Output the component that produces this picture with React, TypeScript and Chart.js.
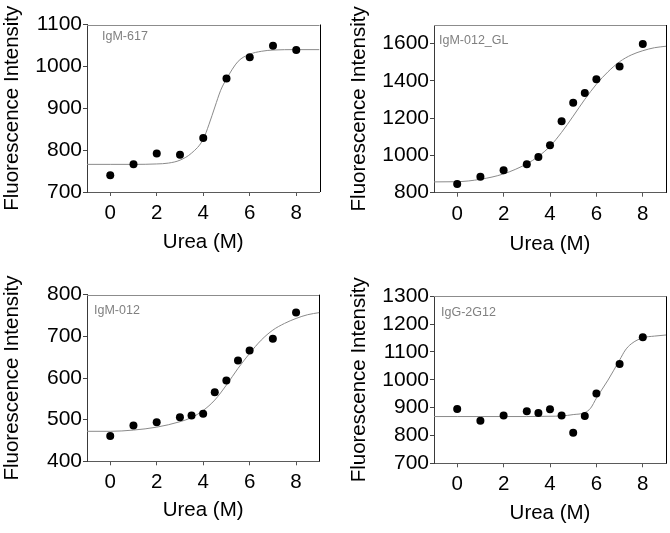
import React, { useEffect, useRef } from 'react';
import { Chart, registerables } from 'chart.js';

Chart.register(...registerables);

// ---- data ----
const xTickValues = [0, 2, 4, 6, 8];

// Panel 1: IgM-617
const urea617 = [0, 1, 2, 3, 4, 5, 6, 7, 8];
const fluor617 = [740, 766, 792, 789, 829, 971, 1022, 1049, 1039];
const fitUrea617 = [-1, 0, 1, 2, 2.5, 3, 3.5, 4, 4.25, 4.5, 4.75, 5, 5.5, 6, 6.5, 7, 8, 9];
const fitFluor617 = [766, 766, 766, 767, 769, 776, 793, 826, 862, 903, 943, 970, 1012, 1029, 1036, 1039, 1040, 1040];
const yTicks617 = [700, 800, 900, 1000, 1100];

// Panel 2: IgM-012_GL
const urea012GL = [0, 1, 2, 3, 3.5, 4, 4.5, 5, 5.5, 6, 7, 8];
const fluor012GL = [847, 886, 921, 953, 991, 1054, 1184, 1283, 1335, 1409, 1477, 1598];
const fitUrea012GL = [-1, 0, 1, 2, 3, 3.5, 4, 4.5, 5, 5.5, 6, 6.5, 7, 7.5, 8, 8.5, 9];
const fitFluor012GL = [858, 859, 872, 901, 955, 995, 1049, 1124, 1211, 1301, 1382, 1449, 1503, 1539, 1562, 1578, 1586];
const yTicks012GL = [800, 1000, 1200, 1400, 1600];

// Panel 3: IgM-012
const urea012 = [0, 1, 2, 3, 3.5, 4, 4.5, 5, 5.5, 6, 7, 8];
const fluor012 = [461, 486, 494, 506, 510, 514, 566, 594, 642, 666, 694, 757];
const fitUrea012 = [-1, 0, 1, 2, 3, 3.5, 4, 4.5, 5, 5.5, 6, 6.5, 7, 7.5, 8, 8.5, 9];
const fitFluor012 = [472, 472, 475, 482, 495, 505, 522, 547, 583, 623, 659, 691, 715, 731, 743, 752, 757];
const yTicks012 = [400, 500, 600, 700, 800];

// Panel 4: IgG-2G12
const urea2G12 = [0, 1, 2, 3, 3.5, 4, 4.5, 5, 5.5, 6, 7, 8];
const fluor2G12 = [895, 853, 872, 887, 881, 894, 872, 810, 870, 951, 1057, 1153];
const fitUrea2G12 = [-1, 0, 1, 2, 3, 4, 4.5, 5, 5.5, 5.75, 6, 6.5, 7, 7.25, 7.5, 8, 8.5, 9];
const fitFluor2G12 = [868, 868, 868, 868, 868, 869, 870, 875, 882, 898, 934, 999, 1071, 1107, 1129, 1151, 1157, 1161];
const yTicks2G12 = [700, 800, 900, 1000, 1100, 1200, 1300];

const FONT = '"Liberation Sans", Arial, Helvetica, sans-serif';

type PanelCfg = {
  label: string;
  xs: number[]; ys: number[]; fx: number[]; fy: number[];
  yMin: number; yMax: number; yTicks: number[];
  left: number; top: number; w: number; h: number;
  padTop: number; padRight: number; yAxisW: number; xAxisH: number;
  yTitlePad: number; xTitlePad: number; labelDx: number; labelDy: number;
};

const panels: PanelCfg[] = [
  { label: 'IgM-617', xs: urea617, ys: fluor617, fx: fitUrea617, fy: fitFluor617,
    yMin: 700, yMax: 1100, yTicks: yTicks617,
    left: 0, top: 0, w: 335, h: 266, padTop: 24.5, padRight: 15.5, yAxisW: 87, xAxisH: 74,
    yTitlePad: 0, xTitlePad: 11, labelDx: 15, labelDy: 12 },
  { label: 'IgM-012_GL', xs: urea012GL, ys: fluor012GL, fx: fitUrea012GL, fy: fitFluor012GL,
    yMin: 800, yMax: 1700, yTicks: yTicks012GL,
    left: 335, top: 0, w: 335, h: 266, padTop: 25, padRight: 3.5, yAxisW: 99, xAxisH: 73.3,
    yTitlePad: 12, xTitlePad: 9, labelDx: 5, labelDy: 16 },
  { label: 'IgM-012', xs: urea012, ys: fluor012, fx: fitUrea012, fy: fitFluor012,
    yMin: 400, yMax: 800, yTicks: yTicks012,
    left: 0, top: 266, w: 335, h: 267, padTop: 28.7, padRight: 15.7, yAxisW: 87, xAxisH: 71.7,
    yTitlePad: 0, xTitlePad: 10, labelDx: 7, labelDy: 16 },
  { label: 'IgG-2G12', xs: urea2G12, ys: fluor2G12, fx: fitUrea2G12, fy: fitFluor2G12,
    yMin: 700, yMax: 1300, yTicks: yTicks2G12,
    left: 335, top: 266, w: 335, h: 267, padTop: 30.3, padRight: 3.5, yAxisW: 99, xAxisH: 69.7,
    yTitlePad: 12, xTitlePad: 7, labelDx: 7, labelDy: 16 },
];

const framePlugin = {
  id: 'frame',
  beforeDatasetsDraw(chart: any) {
    const { ctx, chartArea } = chart;
    const { left, right, top, bottom } = chartArea;
    ctx.save();
    ctx.lineWidth = 1;
    ctx.strokeStyle = '#8c8c8c';
    ctx.beginPath();
    ctx.moveTo(left, Math.round(top) + 0.5);
    ctx.lineTo(right, Math.round(top) + 0.5);
    ctx.stroke();
    ctx.strokeStyle = '#000';
    ctx.beginPath();
    ctx.moveTo(Math.round(right) + 0.5, top);
    ctx.lineTo(Math.round(right) + 0.5, bottom);
    ctx.stroke();
    ctx.restore();
  },
};

const labelPlugin = {
  id: 'panelLabel',
  afterDraw(chart: any, _args: any, opts: any) {
    const { ctx, chartArea } = chart;
    ctx.save();
    ctx.font = `12.5px ${FONT}`;
    ctx.fillStyle = '#808080';
    ctx.textBaseline = 'middle';
    ctx.textAlign = 'left';
    ctx.fillText(opts.text, chartArea.left + opts.dx, chartArea.top + opts.dy);
    ctx.restore();
  },
};

function Panel({ cfg }: { cfg: PanelCfg }) {
  const ref = useRef<HTMLCanvasElement>(null);
  useEffect(() => {
    if (!ref.current) return;
    const chart = new Chart(ref.current, {
      type: 'scatter',
      data: {
        datasets: [
          {
            data: cfg.xs.map((x, i) => ({ x, y: cfg.ys[i] })),
            pointRadius: 4,
            pointBackgroundColor: '#000',
            pointBorderColor: '#000',
            pointBorderWidth: 0,
            showLine: false,
          },
          {
            data: cfg.fx.map((x, i) => ({ x, y: cfg.fy[i] })),
            showLine: true,
            borderColor: '#8a8a8a',
            borderWidth: 1,
            pointRadius: 0,
            cubicInterpolationMode: 'monotone',
          } as any,
        ],
      },
      options: {
        responsive: false,
        animation: false,
        devicePixelRatio: 1,
        layout: { padding: { top: cfg.padTop, right: cfg.padRight, left: 0, bottom: 0 } },
        plugins: {
          legend: { display: false },
          tooltip: { enabled: false },
          panelLabel: { text: cfg.label, dx: cfg.labelDx, dy: cfg.labelDy },
        } as any,
        scales: {
          x: {
            type: 'linear',
            position: 'bottom',
            min: -1,
            max: 9,
            afterBuildTicks: (s: any) => { s.ticks = xTickValues.map((v) => ({ value: v })); },
            afterFit: (s: any) => { s.height = cfg.xAxisH; },
            grid: { display: true, drawOnChartArea: false, drawTicks: true, tickLength: 4, color: '#555' },
            border: { display: true, color: '#5a5a5a', width: 1 },
            ticks: { font: { family: FONT, size: 20.5 }, color: '#000', padding: 5, maxRotation: 0, autoSkip: false, callback: (v: any) => String(v) },
            title: { display: true, text: 'Urea (M)', font: { family: FONT, size: 20.5 }, color: '#000', padding: { top: 0, bottom: cfg.xTitlePad } },
          },
          y: {
            type: 'linear',
            min: cfg.yMin,
            max: cfg.yMax,
            afterBuildTicks: (s: any) => { s.ticks = cfg.yTicks.map((v) => ({ value: v })); },
            afterFit: (s: any) => { s.width = cfg.yAxisW; },
            grid: { display: true, drawOnChartArea: false, drawTicks: true, tickLength: 4, color: '#444' },
            border: { display: true, color: '#3a3a3a', width: 1 },
            ticks: { font: { family: FONT, size: 21 }, color: '#000', padding: 1, autoSkip: false, callback: (v: any) => String(v) },
            title: { display: true, text: 'Fluorescence Intensity', font: { family: FONT, size: 20.5 }, color: '#000', padding: { top: cfg.yTitlePad, bottom: 0 } },
          },
        },
      } as any,
      plugins: [framePlugin, labelPlugin],
    });
    return () => chart.destroy();
  }, [cfg]);
  return (
    <canvas
      ref={ref}
      width={cfg.w}
      height={cfg.h}
      style={{ position: 'absolute', left: cfg.left, top: cfg.top, width: cfg.w, height: cfg.h }}
    />
  );
}

export default function App() {
  return (
    <div style={{ position: 'fixed', left: 0, top: 0, width: 670, height: 533, background: '#fff', overflow: 'hidden' }}>
      {panels.map((p) => (
        <Panel key={p.label} cfg={p} />
      ))}
    </div>
  );
}
